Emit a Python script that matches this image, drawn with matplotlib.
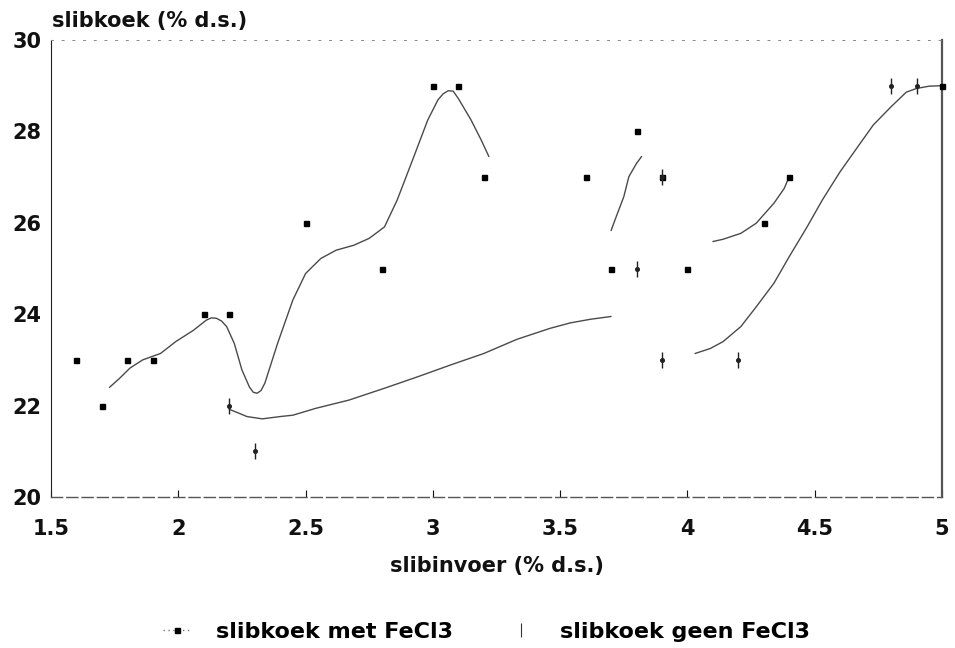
import matplotlib
matplotlib.use("Agg")
import matplotlib.pyplot as plt
from matplotlib.lines import Line2D
from matplotlib.legend_handler import HandlerLine2D

plt.rcParams['font.family'] = ['DejaVu Sans']
plt.rcParams['font.weight'] = 'bold'

# ---- data ----
met_x = [1.6, 1.7, 1.8, 1.9, 2.1, 2.2, 2.5, 2.8, 3.0, 3.1, 3.2, 3.6, 3.7, 3.8, 3.9, 4.0, 4.3, 4.4, 5.0]
met_y = [23, 22, 23, 23, 24, 24, 26, 25, 29, 29, 27, 27, 25, 28, 27, 25, 26, 27, 29]

geen_x = [2.2, 2.3, 3.8, 3.9, 3.9, 4.2, 4.8, 4.9]
geen_y = [22, 21, 25, 23, 27, 23, 29, 29]

# smoothed curves
met_curve1_x = [1.73, 1.77, 1.81, 1.86, 1.93, 1.99, 2.06, 2.11, 2.13, 2.15, 2.17, 2.19,
                2.22, 2.25, 2.28, 2.295, 2.31, 2.325, 2.34, 2.39, 2.45, 2.50,
                2.56, 2.62, 2.69, 2.75, 2.81, 2.86, 2.92, 2.98, 3.02, 3.04, 3.06,
                3.08, 3.10, 3.15, 3.19, 3.22]
met_curve1_y = [22.40, 22.60, 22.82, 23.00, 23.14, 23.40, 23.65, 23.87, 23.92, 23.91, 23.85, 23.73,
                23.36, 22.78, 22.40, 22.29, 22.27, 22.33, 22.49, 23.36, 24.31, 24.89,
                25.22, 25.40, 25.51, 25.66, 25.91, 26.50, 27.37, 28.25, 28.69, 28.82, 28.89,
                28.88, 28.72, 28.25, 27.81, 27.45]
met_curve2_x = [3.70, 3.72, 3.75, 3.77, 3.80, 3.82]
met_curve2_y = [25.83, 26.13, 26.57, 27.01, 27.30, 27.45]
met_curve3_x = [4.10, 4.14, 4.21, 4.27, 4.34, 4.38, 4.40]
met_curve3_y = [25.59, 25.64, 25.77, 25.99, 26.43, 26.75, 27.01]

geen_curve1_x = [2.20, 2.27, 2.33, 2.40, 2.45, 2.54, 2.67, 2.81, 2.94, 3.07,
                 3.20, 3.33, 3.46, 3.54, 3.62, 3.70]
geen_curve1_y = [21.92, 21.76, 21.71, 21.76, 21.79, 21.94, 22.12, 22.38, 22.63, 22.89,
                 23.14, 23.45, 23.69, 23.81, 23.89, 23.95]
geen_curve2_x = [4.03, 4.09, 4.14, 4.21, 4.27, 4.34, 4.40, 4.47, 4.53, 4.60,
                 4.67, 4.73, 4.80, 4.86, 4.90, 4.95, 5.00]
geen_curve2_y = [23.14, 23.25, 23.40, 23.73, 24.16, 24.68, 25.26, 25.91, 26.50, 27.12,
                 27.67, 28.14, 28.54, 28.86, 28.94, 28.99, 29.00]

x_ticks = [1.5, 2, 2.5, 3, 3.5, 4, 4.5, 5]
x_tick_labels = ["1.5", "2", "2.5", "3", "3.5", "4", "4.5", "5"]
y_ticks = [20, 22, 24, 26, 28, 30]
y_tick_labels = ["20", "22", "24", "26", "28", "30"]

title = "slibkoek (% d.s.)"
xlabel = "slibinvoer (% d.s.)"
label_met = "slibkoek met FeCl3"
label_geen = "slibkoek geen FeCl3"

# ---- figure ----
W, H = 955, 648
fig = plt.figure(figsize=(W / 100, H / 100), dpi=100)
ax = fig.add_axes([51 / W, 1 - 497 / H, (942 - 51) / W, (497 - 40) / H])

curve_kw = dict(color="#4a4a4a", lw=1.0, solid_capstyle="round",
                solid_joinstyle="round", zorder=2)
for cx, cy in [(met_curve1_x, met_curve1_y), (met_curve2_x, met_curve2_y),
               (met_curve3_x, met_curve3_y), (geen_curve1_x, geen_curve1_y),
               (geen_curve2_x, geen_curve2_y)]:
    ax.plot(cx, cy, **curve_kw)

ax.plot(met_x, met_y, linestyle="none", marker="s", markersize=3.6,
        color="black", zorder=4, clip_on=False)
ax.plot(geen_x, geen_y, linestyle="none", marker="|", markersize=11,
        markeredgewidth=1.0, color="#222222", zorder=4, clip_on=False)
ax.plot(geen_x, geen_y, linestyle="none", marker="o", markersize=2.6,
        color="#222222", zorder=4, clip_on=False)

ax.set_xlim(1.5, 5)
ax.set_ylim(20, 30)
ax.set_xticks(x_ticks)
ax.set_xticklabels(x_tick_labels)
ax.set_yticks(y_ticks)
ax.set_yticklabels(y_tick_labels)
ax.tick_params(axis="x", direction="in", length=5, width=0.8, pad=16,
               labelsize=15, colors="#111111")
ax.tick_params(axis="y", length=0, pad=7, labelsize=15, colors="#111111")

ax.spines["left"].set_color("#222222")
ax.spines["left"].set_linewidth(0.8)
ax.spines["right"].set_color("#555555")
ax.spines["right"].set_linewidth(1.6)
ax.spines["bottom"].set_color("#555555")
ax.spines["bottom"].set_linewidth(1.0)
ax.spines["bottom"].set_linestyle((0, (8, 3)))
ax.spines["top"].set_color("#888888")
ax.spines["top"].set_linewidth(0.7)
ax.spines["top"].set_linestyle((0, (2, 9)))

ax.set_xlabel(xlabel, fontsize=15, fontweight="bold", color="#111111", labelpad=12)
fig.text(52 / W, 1 - 21 / H, title, fontsize=15, fontweight="bold",
         color="#111111", ha="left", va="center")


class EndMarkerHandler(HandlerLine2D):
    def get_xdata(self, legend, xdescent, ydescent, width, height, fontsize):
        xdata = [-xdescent, -xdescent + width]
        return xdata, [-xdescent + width]


h_met = Line2D([], [], color="#777777", lw=1.0, linestyle=(0, (1, 2.5)),
               marker="s", markersize=3.6, markerfacecolor="black",
               markeredgecolor="black")
h_geen = Line2D([], [], linestyle="none", marker="|", markersize=10,
                markeredgewidth=0.8, color="#333333")
fig.legend([h_met, h_geen], [label_met, label_geen], loc="center",
           bbox_to_anchor=(486 / W, 1 - 632 / H), ncol=2, frameon=False,
           prop={"size": 16, "weight": "bold"}, handlelength=1.3,
           handletextpad=1.1, columnspacing=2.4, numpoints=1,
           handler_map={h_met: EndMarkerHandler()})

fig.savefig("out.png", dpi=100)
